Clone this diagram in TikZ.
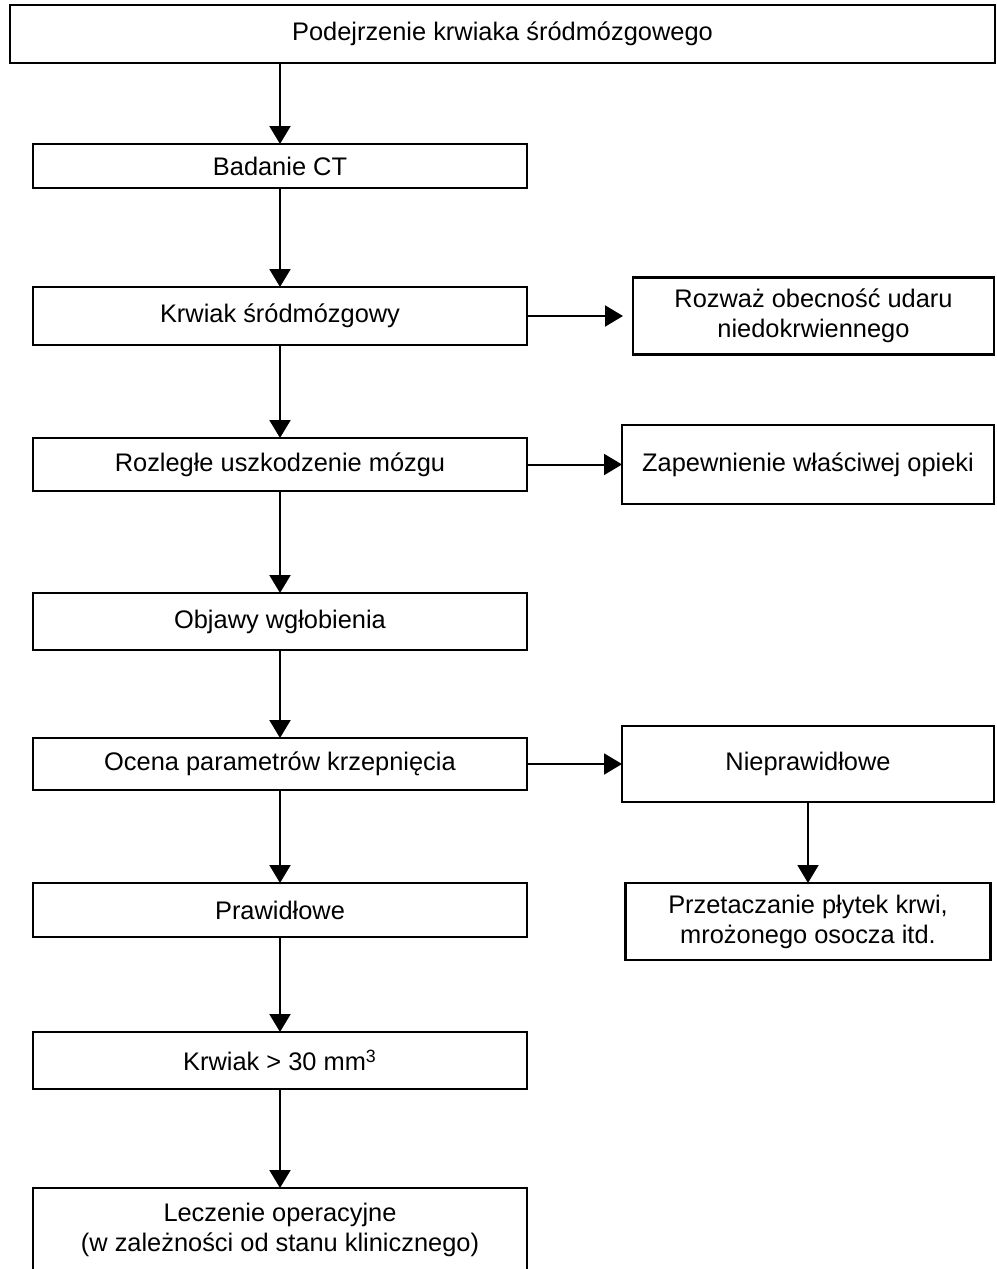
\documentclass[tikz,border=0pt]{standalone}
\usepackage{fontspec}
\setmainfont{Liberation Sans}
\usetikzlibrary{positioning, arrows.meta}
\tikzset{
  box/.style={draw, line width=1.3pt, align=center, inner sep=2pt, outer sep=0pt,
    font=\fontsize{12.7}{15}\selectfont},
  lbox/.style={box, minimum width=247pt},
  arr/.style={line width=1pt, -{Triangle[length=9pt,width=10.5pt]}},
}

\begin{document}
\begin{tikzpicture}
    \useasboundingbox (0,0) rectangle (498pt,-634.5pt);
    \node[box, minimum width=492.5pt, minimum height=29pt, anchor=north west] (susp) at (5pt,-2.5pt) {Podejrzenie krwiaka śródmózgowego};
    \node[lbox, minimum height=22pt, anchor=north west] (ct) at (16.5pt,-72pt) {Badanie CT};
    \node[lbox, minimum height=29pt, below=49.5pt of ct] (ich) {Krwiak śródmózgowy};
    \node[box, minimum width=180.5pt, minimum height=38.5pt, right=53pt of ich] (stroke) {Rozważ obecność udaru\\niedokrwiennego};
    \node[lbox, minimum height=26.5pt, below=46.5pt of ich] (damage) {Rozległe uszkodzenie mózgu};
    \node[box, minimum width=186pt, minimum height=39.5pt, right=47.5pt of damage] (care) {Zapewnienie właściwej opieki};
    \node[lbox, minimum height=28.5pt, below=51pt of damage] (hern) {Objawy wgłobienia};
    \node[lbox, minimum height=26pt, below=44pt of hern] (coag) {Ocena parametrów krzepnięcia};
    \node[box, minimum width=186pt, minimum height=38pt, right=47.5pt of coag] (abn) {Nieprawidłowe};
    \node[box, minimum width=182.5pt, minimum height=38.5pt, below=40.5pt of abn] (transf) {Przetaczanie płytek krwi,\\mrożonego osocza itd.};
    \node[lbox, minimum height=27pt, below=46.5pt of coag] (norm) {Prawidłowe};
    \node[lbox, minimum height=28.5pt, below=47.5pt of norm] (vol) {Krwiak > 30 mm\textsuperscript{3}};
    \node[lbox, minimum height=42pt, below=49.5pt of vol] (surg) {Leczenie operacyjne\\(w zależności od stanu klinicznego)};

    % Connect the nodes
    \draw[arr] (susp.south -| ct.north) -- (ct.north); %
    \draw[arr] (ct) -- (ich); %
    \draw[arr] (ich.east) -- (ich.east -| stroke.west) [shorten >=5pt]; %
    \draw[arr] (ich) -- (damage); %
    \draw[arr] (damage.east) -- (damage.east -| care.west); %
    \draw[arr] (damage) -- (hern); %
    \draw[arr] (hern) -- (coag); %
    \draw[arr] (coag.east) -- (coag.east -| abn.west); %
    \draw[arr] (abn.south) -- (abn.south |- transf.north); %
    \draw[arr] (coag) -- (norm); %
    \draw[arr] (norm) -- (vol); %
    \draw[arr] (vol) -- (surg); %
\end{tikzpicture}
\end{document}
